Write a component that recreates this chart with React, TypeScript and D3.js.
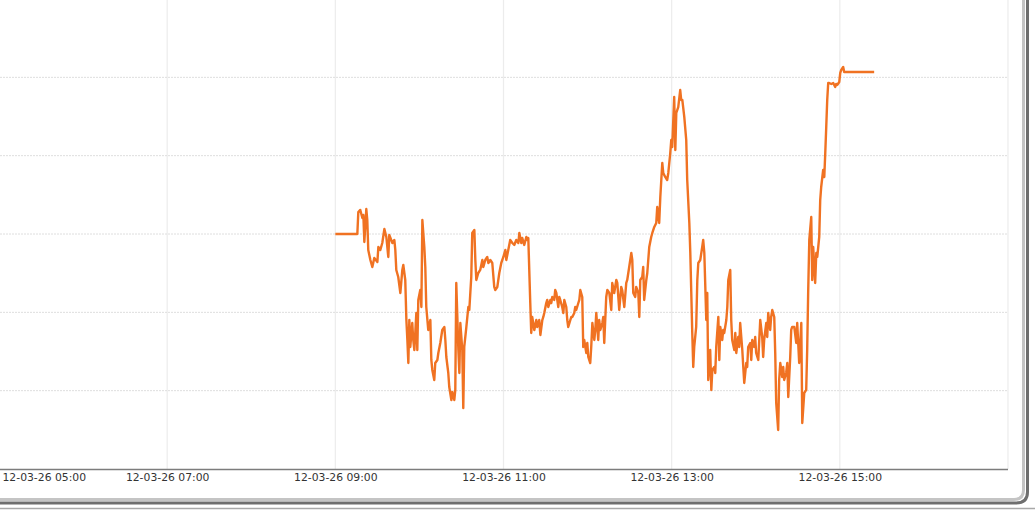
import { useEffect, useRef, type FC } from 'react';
import * as d3 from 'd3';

const WIDTH = 1035;
const HEIGHT = 512;

// session day, all times are minutes after 09:00
const sessionStart = new Date(2012, 2, 26, 9, 0);

const minutes = [
  0, 15.7, 16.4, 17.8, 19.3, 20.0, 20.7, 22.1, 22.8, 23.5,
  25.0, 26.4, 27.8, 30.0, 30.7, 32.1, 33.5, 35.0, 36.4, 37.8,
  38.5, 40.7, 42.1, 42.8, 43.5, 44.9, 46.4, 47.8, 48.5, 49.9,
  50.7, 51.4, 52.1, 52.8, 53.5, 54.9, 55.6, 56.4, 57.8, 58.5,
  59.2, 60.6, 61.4, 62.1, 63.5, 64.2, 64.9, 66.3, 67.8, 68.5,
  69.2, 70.6, 71.3, 72.8, 73.5, 74.9, 76.3, 77.8, 78.5, 79.2,
  80.6, 81.3, 82.8, 83.5, 84.9, 85.6, 86.3, 87.8, 88.5, 89.2,
  90.6, 91.3, 92.0, 93.5, 94.9, 95.6, 97.0, 97.7, 99.2,
  99.9, 100.6, 102.0, 103.4, 104.9, 105.6, 107.0, 108.4, 109.2, 110.6,
  112.0, 113.4, 114.1, 115.6, 117.0, 118.4, 119.9, 121.3, 122.0, 123.4,
  124.8, 126.3, 127.7, 129.1, 130.6, 131.3, 132.7, 133.4, 134.8, 136.3,
  137.0, 137.7, 139.1, 139.8, 140.5, 142.0, 143.4, 144.1, 145.5, 146.3,
  147.7, 148.4, 149.1, 150.5, 151.2, 152.0, 153.4, 154.1, 154.8, 156.2,
  156.9, 157.7, 159.1, 159.8, 160.5, 161.9, 162.7, 163.4, 164.8, 165.5,
  166.2, 167.7, 168.4, 169.1, 170.5, 171.2, 171.9, 173.4, 174.1, 174.8,
  176.2, 176.9, 177.6, 179.1, 179.8, 180.5, 181.9, 182.6, 183.4, 184.8,
  185.5, 186.2, 187.6, 188.3, 189.1, 190.5, 191.2, 191.9, 193.3, 194.1,
  195.5, 196.9, 197.6, 199.0, 200.5, 201.2, 202.6, 204.0, 204.7, 206.2,
  207.6, 208.3, 209.7, 211.2, 211.9, 212.6, 214.0, 214.7, 216.2, 216.9,
  217.6, 219.0, 219.7, 220.4, 221.9, 222.6, 224.0, 225.4, 226.2, 227.6,
  229.0, 229.7, 231.1, 231.9, 233.3, 234.0, 235.4, 236.8, 237.6, 239.0,
  239.7, 240.4, 241.8, 242.6, 243.3, 244.7, 246.1, 246.8, 247.6, 249.0,
  250.4, 251.1, 252.6, 253.3, 254.0, 254.7, 255.4, 256.1, 257.5, 258.3,
  259.0, 260.4, 261.8, 262.5, 263.3, 264.7, 265.4, 266.1, 267.5, 268.3,
  269.0, 270.4, 271.1, 271.8, 273.3, 274.0, 274.7, 276.1, 276.8, 277.5,
  279.0, 279.7, 280.4, 281.8, 282.5, 283.2, 284.7, 285.4, 286.1, 287.5,
  288.2, 288.9, 290.4, 291.1, 291.8, 293.2, 293.9, 294.6, 296.1, 296.8,
  297.5, 298.9, 299.6, 300.3, 301.8, 302.5, 303.2, 304.6, 305.3, 306.0,
  307.5, 308.2, 308.9, 310.3, 311.0, 311.8, 313.2, 313.9, 314.6, 316.0,
  316.7, 317.5, 318.9, 319.6, 320.3, 321.7, 322.5, 323.2, 324.6, 325.3,
  326.0,
  327.5, 328.9, 329.6, 331.0, 332.5, 333.2, 334.6, 336.0, 336.7, 337.4,
  338.2, 339.6, 340.3, 341.0, 342.4, 343.2, 343.9, 345.3, 346.0, 346.7,
  348.1, 348.9, 349.6, 350.3, 351.0, 351.7, 352.4, 353.9, 355.3, 356.7,
  357.4, 358.1, 359.6, 360.3, 361.0, 362.4, 363.1, 365.3, 384.5,
];

const values = [
  3.0, 3.0, 3.281, 3.307, 3.204, 3.243, 2.898, 3.319, 3.179, 2.796,
  2.668, 2.579, 2.694, 2.643, 2.834, 2.796, 2.885, 3.064, 2.962, 2.707,
  2.987, 2.885, 2.924, 2.796, 2.541, 2.451, 2.247, 2.541, 2.604, 2.413,
  1.902, 1.647, 1.353, 1.902, 1.558, 1.864, 1.647, 1.519, 1.992, 1.519,
  2.158, 2.285, 2.068, 3.179, 2.834, 2.579, 2.068, 1.775, 1.902, 1.392,
  1.264, 1.136, 1.353, 1.392, 1.481, 1.609, 1.775, 1.813, 1.647, 1.43,
  1.226, 1.047, 0.881, 0.983, 0.881, 1.009, 2.375, 1.519, 1.226, 1.864,
  1.519, 0.779, 1.558, 1.813, 2.068, 2.03, 2.451, 3.013, 3.051,
  2.668, 2.413, 2.502, 2.541, 2.668, 2.579, 2.668, 2.707, 2.63, 2.668,
  2.63, 2.324, 2.285, 2.324, 2.502, 2.63, 2.707, 2.796, 2.668, 2.796,
  2.924, 2.885, 2.86, 2.924, 2.885, 3.013, 2.885, 2.949, 2.86, 2.962,
  2.924, 2.949, 2.119, 1.736, 1.941, 1.775, 1.902, 1.813, 1.902, 1.711,
  1.902, 1.941, 1.992, 2.119, 2.158, 2.068, 2.158, 2.119, 2.196, 2.158,
  2.285, 2.247, 2.068, 2.196, 2.158, 2.068, 1.992, 2.158, 2.068, 1.902,
  1.813, 1.902, 1.941, 1.941, 1.992, 2.068, 2.03, 2.119, 2.158, 2.285,
  2.196, 1.558, 1.647, 1.481, 1.609, 1.43, 1.353, 1.558, 1.864, 1.647,
  1.775, 1.992, 1.647, 1.902, 1.775, 1.864, 1.941, 1.609, 2.196, 2.285,
  2.247, 2.03, 2.375, 2.247, 2.413, 2.375, 2.03, 2.324, 2.285, 2.068,
  2.375, 2.413, 2.579, 2.758, 2.668, 2.247, 2.196, 2.324, 2.247, 1.941,
  2.413, 2.451, 2.579, 2.158, 2.413, 2.502, 2.834, 2.962, 3.013, 3.09,
  3.141, 3.345, 3.141, 3.472, 3.907, 3.779, 3.728, 3.689, 3.779, 4.034,
  4.2, 4.111, 4.749, 4.073, 4.545, 4.621, 4.838, 4.711, 4.711, 4.494,
  4.2, 3.689, 3.141, 2.758, 2.247, 1.736, 1.302, 1.558, 1.813, 2.413,
  2.63, 2.668, 2.834, 2.924, 2.758, 1.902, 2.247, 1.136, 1.519, 1.009,
  1.264, 1.302, 1.226, 1.558, 1.941, 1.392, 1.813, 1.647, 1.775, 1.736,
  1.902, 2.068, 2.413, 2.541, 1.902, 1.647, 1.519, 1.736, 1.481, 1.685,
  1.558, 1.864, 1.519, 1.302, 1.098, 1.353, 1.302, 1.558, 1.609, 1.392,
  1.647, 1.558, 1.685, 1.481, 1.392, 1.647, 1.902, 1.685, 1.43, 1.647,
  1.864, 1.685, 1.992, 1.775, 1.941, 2.03, 1.941, 1.481, 0.843, 0.498,
  1.136, 1.353, 1.175, 1.302, 1.136, 1.226, 1.353, 0.919, 1.43, 1.775,
  1.813,
  1.813, 1.609, 1.864, 1.353, 1.864, 0.587, 0.97, 1.009, 1.519, 2.247,
  2.924, 3.217, 2.413, 2.834, 2.375, 2.758, 2.707, 2.962, 3.434, 3.6,
  3.817, 3.728, 4.034, 4.366, 4.711, 4.928, 4.928, 4.915, 4.928, 4.877,
  4.915, 4.902, 4.941, 5.056, 5.094, 5.132, 5.068, 5.068, 5.068,
];

const labelHours = [5, 7, 9, 11, 13, 15];
const gridHours = [7, 9, 11, 13, 15, 17];
const gridValues = [1, 2, 3, 4, 5];

const App: FC = () => {
  const svgRef = useRef<SVGSVGElement>(null);

  useEffect(() => {
    if (!svgRef.current) return;
    const svg = d3.select(svgRef.current);
    svg.selectAll('*').remove();

    const day = (h: number) => new Date(2012, 2, 26, h, 0);

    const x = d3.scaleTime().domain([day(5), day(17)]).range([-1, 1008]);
    const y = d3.scaleLinear().domain([0, 6]).range([469, -1]);

    const points = minutes.map((m, i) => ({
      t: new Date(sessionStart.getTime() + m * 60000),
      v: values[i],
    }));

    svg.append('rect').attr('width', WIDTH).attr('height', HEIGHT).attr('fill', '#fff');

    // vertical grid
    svg
      .append('g')
      .selectAll('line')
      .data(gridHours)
      .join('line')
      .attr('x1', (h) => x(day(h)))
      .attr('x2', (h) => x(day(h)))
      .attr('y1', 0)
      .attr('y2', 469)
      .attr('stroke', '#ececec')
      .attr('stroke-width', 1.2);

    // horizontal grid
    svg
      .append('g')
      .selectAll('line')
      .data(gridValues)
      .join('line')
      .attr('x1', 0)
      .attr('x2', 1008)
      .attr('y1', (v) => y(v))
      .attr('y2', (v) => y(v))
      .attr('stroke', '#dedede')
      .attr('stroke-dasharray', '2,1');

    // price line
    const line = d3
      .line<{ t: Date; v: number }>()
      .x((d) => x(d.t))
      .y((d) => y(d.v));

    svg
      .append('path')
      .datum(points)
      .attr('d', line)
      .attr('fill', 'none')
      .attr('stroke', '#f07222')
      .attr('stroke-width', 2.4)
      .attr('stroke-linejoin', 'round');

    // x axis
    svg
      .append('line')
      .attr('x1', 0)
      .attr('x2', 1008)
      .attr('y1', 469.5)
      .attr('y2', 469.5)
      .attr('stroke', '#7c7c7c')
      .attr('stroke-width', 1.5);

    const axis = svg
      .append('g')
      .attr('transform', 'translate(0,469)')
      .call(
        d3
          .axisBottom(x)
          .tickValues(labelHours.map(day))
          .tickFormat((d) => d3.timeFormat('%y-%m-%d %H:%M')(d as Date))
          .tickSize(0)
          .tickPadding(4),
      );
    axis.select('.domain').remove();
    axis
      .selectAll<SVGTextElement, Date>('text')
      .attr('font-family', '"DejaVu Sans", Verdana, sans-serif')
      .attr('font-size', 10.8)
      .attr('fill', '#333')
      .each(function (d) {
        const w = this.getComputedTextLength();
        const tx = x(d);
        if (tx - w / 2 < 2) {
          d3.select(this).attr('text-anchor', 'start').attr('x', 2 - tx);
        }
      });

    // window frame
    svg
      .append('path')
      .attr('d', 'M0,499.5 H1014 Q1023.5,499.5 1023.5,490 V0')
      .attr('fill', 'none')
      .attr('stroke', '#c4c4c4')
      .attr('stroke-width', 3);
    svg
      .append('path')
      .attr('d', 'M0,503 H1016 Q1027.5,503 1027.5,492 V0')
      .attr('fill', 'none')
      .attr('stroke', '#6e6e6e')
      .attr('stroke-width', 3);
    svg
      .append('line')
      .attr('x1', 0)
      .attr('x2', WIDTH)
      .attr('y1', 508.5)
      .attr('y2', 508.5)
      .attr('stroke', '#a8a8a8')
      .attr('stroke-width', 1.5);
  }, []);

  return (
    <div style={{ position: 'absolute', left: 0, top: 0 }}>
      <svg ref={svgRef} width={WIDTH} height={HEIGHT} style={{ display: 'block' }} />
    </div>
  );
};

export default App;
